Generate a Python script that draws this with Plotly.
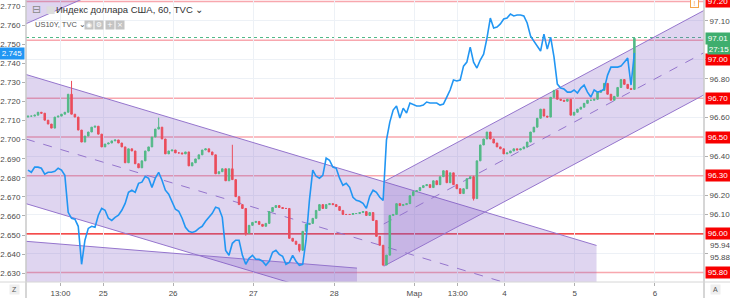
import plotly.graph_objects as go

# ---------------- data ----------------
# US Dollar Index (DXY), 60-minute candles, right scale
dxy_first_open = 96.603
dxy_close = [
    96.608, 96.608, 96.613, 96.628, 96.623, 96.587, 96.567, 96.546, 96.603, 96.608,
    96.618, 96.628, 96.721, 96.618, 96.603, 96.536, 96.474, 96.505, 96.526, 96.551,
    96.556, 96.515, 96.449, 96.464, 96.469, 96.480, 96.485, 96.469, 96.449, 96.367,
    96.439, 96.428, 96.362, 96.341, 96.377, 96.428, 96.449, 96.500, 96.541, 96.551,
    96.490, 96.413, 96.428, 96.433, 96.418, 96.418, 96.413, 96.423, 96.351, 96.367,
    96.387, 96.408, 96.433, 96.439, 96.423, 96.408, 96.310, 96.321, 96.336, 96.274,
    96.336, 96.280, 96.192, 96.151, 96.131, 96.003, 96.044, 96.059, 96.064, 96.049,
    96.039, 96.054, 96.115, 96.136, 96.146, 96.136, 96.131, 96.131, 95.977, 95.962,
    95.946, 95.915, 96.013, 96.049, 96.054, 96.080, 96.121, 96.151, 96.131, 96.151,
    96.156, 96.151, 96.141, 96.121, 96.100, 96.100, 96.100, 96.105, 96.105, 96.110,
    96.115, 96.095, 96.110, 96.069, 95.987, 95.941, 95.839, 95.890, 96.095, 96.100,
    96.156, 96.146, 96.151, 96.156, 96.197, 96.218, 96.223, 96.239, 96.249, 96.254,
    96.239, 96.274, 96.254, 96.295, 96.326, 96.264, 96.315, 96.254, 96.233, 96.208,
    96.233, 96.285, 96.295, 96.182, 96.377, 96.459, 96.490, 96.526, 96.490, 96.469,
    96.449, 96.439, 96.413, 96.418, 96.428, 96.439, 96.433, 96.439, 96.449, 96.474,
    96.526, 96.551, 96.597, 96.644, 96.608, 96.603, 96.705, 96.741, 96.695, 96.690,
    96.685, 96.695, 96.613, 96.628, 96.644, 96.654, 96.674, 96.690, 96.690, 96.695,
    96.731, 96.741, 96.777, 96.721, 96.690, 96.710, 96.756, 96.797, 96.772, 96.751,
    96.746, 97.010,
]
wick_high = {13: 96.790, 39: 96.600, 61: 96.460, 133: 96.300}
wick_low = {65: 95.990, 106: 95.835, 133: 96.172, 81: 95.905}

# US10Y yield, left scale
us10y = [
    2.6840, 2.6829, 2.6856, 2.6856, 2.6850, 2.6819, 2.6829, 2.6829, 2.6834, 2.6850,
    2.6840, 2.6813, 2.6619, 2.6588, 2.6583, 2.6546, 2.6347, 2.6473, 2.6535, 2.6546,
    2.6541, 2.6604, 2.6640, 2.6630, 2.6588, 2.6577, 2.6593, 2.6604, 2.6630, 2.6666,
    2.6724, 2.6735, 2.6724, 2.6771, 2.6777, 2.6808, 2.6798, 2.6750, 2.6798, 2.6829,
    2.6787, 2.6735, 2.6714, 2.6677, 2.6635, 2.6625, 2.6588, 2.6541, 2.6520, 2.6514,
    2.6520, 2.6535, 2.6546, 2.6572, 2.6593, 2.6614, 2.6646, 2.6640, 2.6593, 2.6420,
    2.6394, 2.6457, 2.6473, 2.6473, 2.6394, 2.6347, 2.6378, 2.6394, 2.6373, 2.6373,
    2.6363, 2.6342, 2.6363, 2.6410, 2.6420, 2.6399, 2.6389, 2.6347, 2.6357, 2.6394,
    2.6363, 2.6342, 2.6347, 2.6473, 2.6682, 2.6840, 2.6808, 2.6798, 2.6813, 2.6903,
    2.6892, 2.6856, 2.6850, 2.6798, 2.6761, 2.6771, 2.6750, 2.6698, 2.6682, 2.6677,
    2.6666, 2.6640, 2.6703, 2.6735, 2.6724, 2.6698, 2.6682, 2.6997, 2.7092, 2.7155,
    2.7176, 2.7113, 2.7165, 2.7139, 2.7192, 2.7186, 2.7176, 2.7176, 2.7181, 2.7197,
    2.7192, 2.7192, 2.7192, 2.7181, 2.7186, 2.7223, 2.7260, 2.7312, 2.7307, 2.7312,
    2.7385, 2.7406, 2.7485, 2.7406, 2.7375, 2.7417, 2.7448, 2.7532, 2.7637, 2.7585,
    2.7590, 2.7606, 2.7632, 2.7637, 2.7658, 2.7648, 2.7653, 2.7653, 2.7648, 2.7611,
    2.7543, 2.7516, 2.7490, 2.7464, 2.7553, 2.7474, 2.7537, 2.7433, 2.7291, 2.7270,
    2.7265, 2.7249, 2.7249, 2.7260, 2.7244, 2.7270, 2.7286, 2.7249, 2.7223, 2.7260,
    2.7249, 2.7254, 2.7265, 2.7338, 2.7380, 2.7380, 2.7380, 2.7385, 2.7406, 2.7427,
    2.7286, 2.7454,
]

x_labels = ["13:00", "25", "26", "27", "28", "Мар", "13:00", "4", "5", "6"]
x_label_pos = [9.70, 22.46, 43.32, 67.27, 91.39, 115.34, 128.28, 142.23, 163.2, 187.15]

left_ticks = [2.63, 2.64, 2.65, 2.66, 2.67, 2.68, 2.69, 2.70, 2.71, 2.72, 2.73, 2.74, 2.75, 2.76, 2.77]
right_grid = [95.9, 96.1, 96.2, 96.4, 96.6, 96.8, 96.9, 97.1]
right_labels = {96.1: "96.10", 96.2: "96.20", 96.4: "96.40", 96.6: "96.60", 96.8: "96.80", 97.1: "97.10"}
right_extra_labels = [95.94, 95.88]

# horizontal price levels (right scale)
pink_levels = [97.20, 97.00, 96.70, 96.50, 96.30, 95.80]
red_level = 96.00
level_labels = [97.20, 96.90, 96.70, 96.50, 96.30, 96.00, 95.80]
level_texts = ["97.20", "97.00", "96.70", "96.50", "96.30", "96.00", "95.80"]
last_price = 97.01
last_yield = 2.745

# drawn channels (bar index, price)
desc_upper = [(-0.6, 96.823), (169.7, 95.940)]
desc_lower = [(-0.6, 96.156), (169.7, 95.273)]
band_line = [(-0.6, 95.9615), (98.2, 95.823)]
corner_line = [(-0.6, 97.085), (27.7, 97.30)]
asc_upper = [(106.2, 96.269), (230.0, 97.415)]
asc_lower = [(106.2, 95.833), (230.0, 96.979)]

# ---------------- figure ----------------
n = len(dxy_close)
xs = list(range(n))
opens = [dxy_first_open] + dxy_close[:-1]
highs = [wick_high.get(i, max(o, c)) for i, (o, c) in enumerate(zip(opens, dxy_close))]
lows = [wick_low.get(i, min(o, c)) for i, (o, c) in enumerate(zip(opens, dxy_close))]

UP = "#53b987"
DOWN = "#eb4d5c"
PURPLE = "rgb(149,117,205)"
FILL = "rgba(126,87,194,0.25)"
PINK = "rgba(240,60,75,0.45)"
LAYER = "between"

fig = go.Figure()
fig.add_trace(go.Candlestick(
    x=xs, open=opens, high=highs, low=lows, close=dxy_close,
    increasing=dict(line=dict(color=UP, width=1), fillcolor=UP),
    decreasing=dict(line=dict(color=DOWN, width=1), fillcolor=DOWN),
    whiskerwidth=0, yaxis="y", showlegend=False, hoverinfo="skip",
))
fig.add_trace(go.Scatter(
    x=xs, y=us10y, mode="lines", line=dict(color="#2196f3", width=1.6),
    yaxis="y2", showlegend=False, hoverinfo="skip",
))

shapes = []

def poly(points, fill, line_w=0):
    d = "M " + " L ".join(f"{x},{y}" for x, y in points) + " Z"
    return dict(type="path", path=d, xref="x", yref="y", fillcolor=fill,
                line=dict(width=line_w, color=PURPLE), layer=LAYER)

def seg(p0, p1, dash="solid", color=PURPLE, width=1):
    return dict(type="line", xref="x", yref="y", x0=p0[0], y0=p0[1], x1=p1[0], y1=p1[1],
                line=dict(color=color, width=width, dash=dash), layer=LAYER)

# descending channel
shapes.append(poly([desc_upper[0], desc_upper[1], desc_lower[1], desc_lower[0]], FILL))
shapes.append(seg(*desc_upper))
shapes.append(seg(*desc_lower))
mid_d = [((a[0] + b[0]) / 2, (a[1] + b[1]) / 2) for a, b in zip(desc_upper, desc_lower)]
shapes.append(seg(*mid_d, dash="dash"))
# bottom band
shapes.append(poly([band_line[0], band_line[1], (band_line[1][0], 95.5), (band_line[0][0], 95.5)], FILL))
shapes.append(seg(*band_line))
# top-left corner
shapes.append(poly([corner_line[0], corner_line[1], (corner_line[0][0], 97.30)], FILL))
shapes.append(seg(*corner_line))
# ascending channel
shapes.append(poly([asc_upper[0], asc_upper[1], asc_lower[1], asc_lower[0]], FILL))
shapes.append(seg(*asc_upper))
shapes.append(seg(*asc_lower))
mid_a = [((a[0] + b[0]) / 2, (a[1] + b[1]) / 2) for a, b in zip(asc_upper, asc_lower)]
shapes.append(seg(*mid_a, dash="dash"))

# horizontal levels
for lv in pink_levels:
    shapes.append(dict(type="line", xref="paper", yref="y", x0=0, x1=1, y0=lv, y1=lv,
                       line=dict(color=PINK, width=1.5), layer=LAYER))
shapes.append(dict(type="line", xref="paper", yref="y", x0=0, x1=1, y0=red_level, y1=red_level,
                   line=dict(color="#f01010", width=1.2), layer=LAYER))
shapes.append(dict(type="line", xref="paper", yref="y", x0=0, x1=1, y0=last_price + 0.004, y1=last_price + 0.004,
                   line=dict(color=UP, width=1, dash="dot"), layer=LAYER))

# scale separators
for xp in (0, 1):
    shapes.append(dict(type="line", xref="paper", yref="paper", x0=xp, x1=xp, y0=-0.06, y1=1,
                       line=dict(color="#c9c9c9", width=1.5), layer="above"))
shapes.append(dict(type="line", xref="paper", yref="paper", x0=-0.04, x1=1.04, y0=0, y1=0,
                   line=dict(color="#d6d6d6", width=1), layer="above"))

annotations = []
for v, t in zip(level_labels, level_texts):
    annotations.append(dict(xref="paper", yref="y", x=1, y=v, xanchor="left", yanchor="middle",
                            text=t, showarrow=False, bgcolor="#f80000",
                            font=dict(color="white", size=8, family="Liberation Sans"),
                            borderpad=1, xshift=1, width=22, height=9))
annotations.append(dict(xref="paper", yref="y", x=1, y=last_price, xanchor="left", yanchor="middle",
                        text="97.01", showarrow=False, bgcolor="#3fae6e",
                        font=dict(color="white", size=8, family="Liberation Sans"),
                        borderpad=1, xshift=1, width=22, height=9))
annotations.append(dict(xref="paper", yref="y", x=1, y=96.955, xanchor="left", yanchor="middle",
                        text="27:15", showarrow=False, bgcolor="#3fae6e",
                        font=dict(color="white", size=8, family="Liberation Sans"),
                        borderpad=1, xshift=3, width=20, height=8))
annotations.append(dict(xref="paper", yref="y2", x=0, y=last_yield, xanchor="right", yanchor="middle",
                        text="2.745", showarrow=False, bgcolor="#2196f3",
                        font=dict(color="white", size=8, family="Liberation Sans"),
                        borderpad=1, xshift=-1, width=22, height=9))
for v in right_extra_labels:
    annotations.append(dict(xref="paper", yref="y", x=1, y=v, xanchor="left", yanchor="middle",
                            text=f"{v:.2f}", showarrow=False,
                            font=dict(color="#4a4a4a", size=8, family="Liberation Sans"), xshift=4))

# legend text
def px2paper_x(px):
    return (px - 24) / 682

def px2paper_y(py):
    return (284 - py) / 284

annotations.append(dict(xref="paper", yref="paper", x=px2paper_x(28), y=px2paper_y(10),
                        xanchor="left", yanchor="middle", showarrow=False,
                        text="⊟", font=dict(color="#8a8a8a", size=11, family="DejaVu Sans")))
annotations.append(dict(xref="paper", yref="paper", x=px2paper_x(42), y=px2paper_y(10),
                        xanchor="left", yanchor="middle", showarrow=False,
                        text="■", font=dict(color="#dddddd", size=10, family="DejaVu Sans")))
annotations.append(dict(xref="paper", yref="paper", x=px2paper_x(52), y=px2paper_y(10),
                        xanchor="left", yanchor="middle", showarrow=False,
                        text="Индекс доллара США, 60, TVC ⌄",
                        font=dict(color="#333333", size=9.5, family="Liberation Sans")))
annotations.append(dict(xref="paper", yref="paper", x=px2paper_x(31), y=px2paper_y(25),
                        xanchor="left", yanchor="middle", showarrow=False,
                        text="US10Y, TVC ⌄",
                        font=dict(color="#555555", size=7.5, family="Liberation Sans")))
for k, g in enumerate(["◉", "⚙", "+", "×"]):
    annotations.append(dict(xref="paper", yref="paper", x=px2paper_x(87 + 10.5 * k), y=px2paper_y(25),
                            xanchor="center", yanchor="middle", showarrow=False, text=g,
                            bgcolor="#c4c4c4", width=8, height=8, borderpad=0,
                            font=dict(color="white", size=7, family="DejaVu Sans")))
# UI markers
annotations.append(dict(xref="paper", yref="paper", x=px2paper_x(696), y=px2paper_y(4),
                        xanchor="center", yanchor="middle", showarrow=False, text="!",
                        bordercolor="#f5a64a", borderwidth=1, bgcolor="white", width=7, height=7,
                        borderpad=0, font=dict(color="#f5a64a", size=7, family="Liberation Sans")))
annotations.append(dict(xref="paper", yref="paper", x=px2paper_x(12), y=px2paper_y(292),
                        xanchor="center", yanchor="middle", showarrow=False, text="Z",
                        bgcolor="#eeeeee", width=9, height=9, borderpad=0,
                        font=dict(color="#555555", size=7, family="Liberation Sans")))
annotations.append(dict(xref="paper", yref="paper", x=px2paper_x(718), y=px2paper_y(292),
                        xanchor="center", yanchor="middle", showarrow=False, text="A",
                        bgcolor="#eeeeee", width=9, height=9, borderpad=0,
                        font=dict(color="#555555", size=7, family="Liberation Sans")))

tick_font = dict(color="#4a4a4a", size=8, family="Liberation Sans")

fig.update_layout(
    width=730, height=298,
    margin=dict(l=24, r=24, t=0, b=14),
    paper_bgcolor="white", plot_bgcolor="white",
    showlegend=False,
    boxgap=0.35,
    xaxis=dict(range=[-0.5935, 201.78], tickvals=x_label_pos, ticktext=x_labels,
               showgrid=True, gridcolor="#edf1f6", gridwidth=1, zeroline=False,
               ticks="outside", ticklen=3, tickcolor="#b0b0b0", tickfont=tick_font,
               rangeslider=dict(visible=False), showline=False, fixedrange=True),
    yaxis=dict(side="right", range=[95.7513, 97.2077], tickvals=right_grid,
               ticktext=[right_labels.get(round(v, 2), "") for v in right_grid],
               showgrid=True, gridcolor="#edf1f6", gridwidth=1, zeroline=False,
               ticks="outside", ticklen=3, tickcolor="#b0b0b0", tickfont=tick_font,
               showline=False),
    yaxis2=dict(side="left", overlaying="y", range=[2.62542, 2.77315], tickvals=left_ticks,
                ticktext=[f"{v:.3f}" for v in left_ticks], showgrid=False, zeroline=False,
                ticks="outside", ticklen=3, tickcolor="#b0b0b0", tickfont=tick_font,
                showline=False),
    shapes=shapes,
    annotations=annotations,
)

fig.write_html("out.html")
